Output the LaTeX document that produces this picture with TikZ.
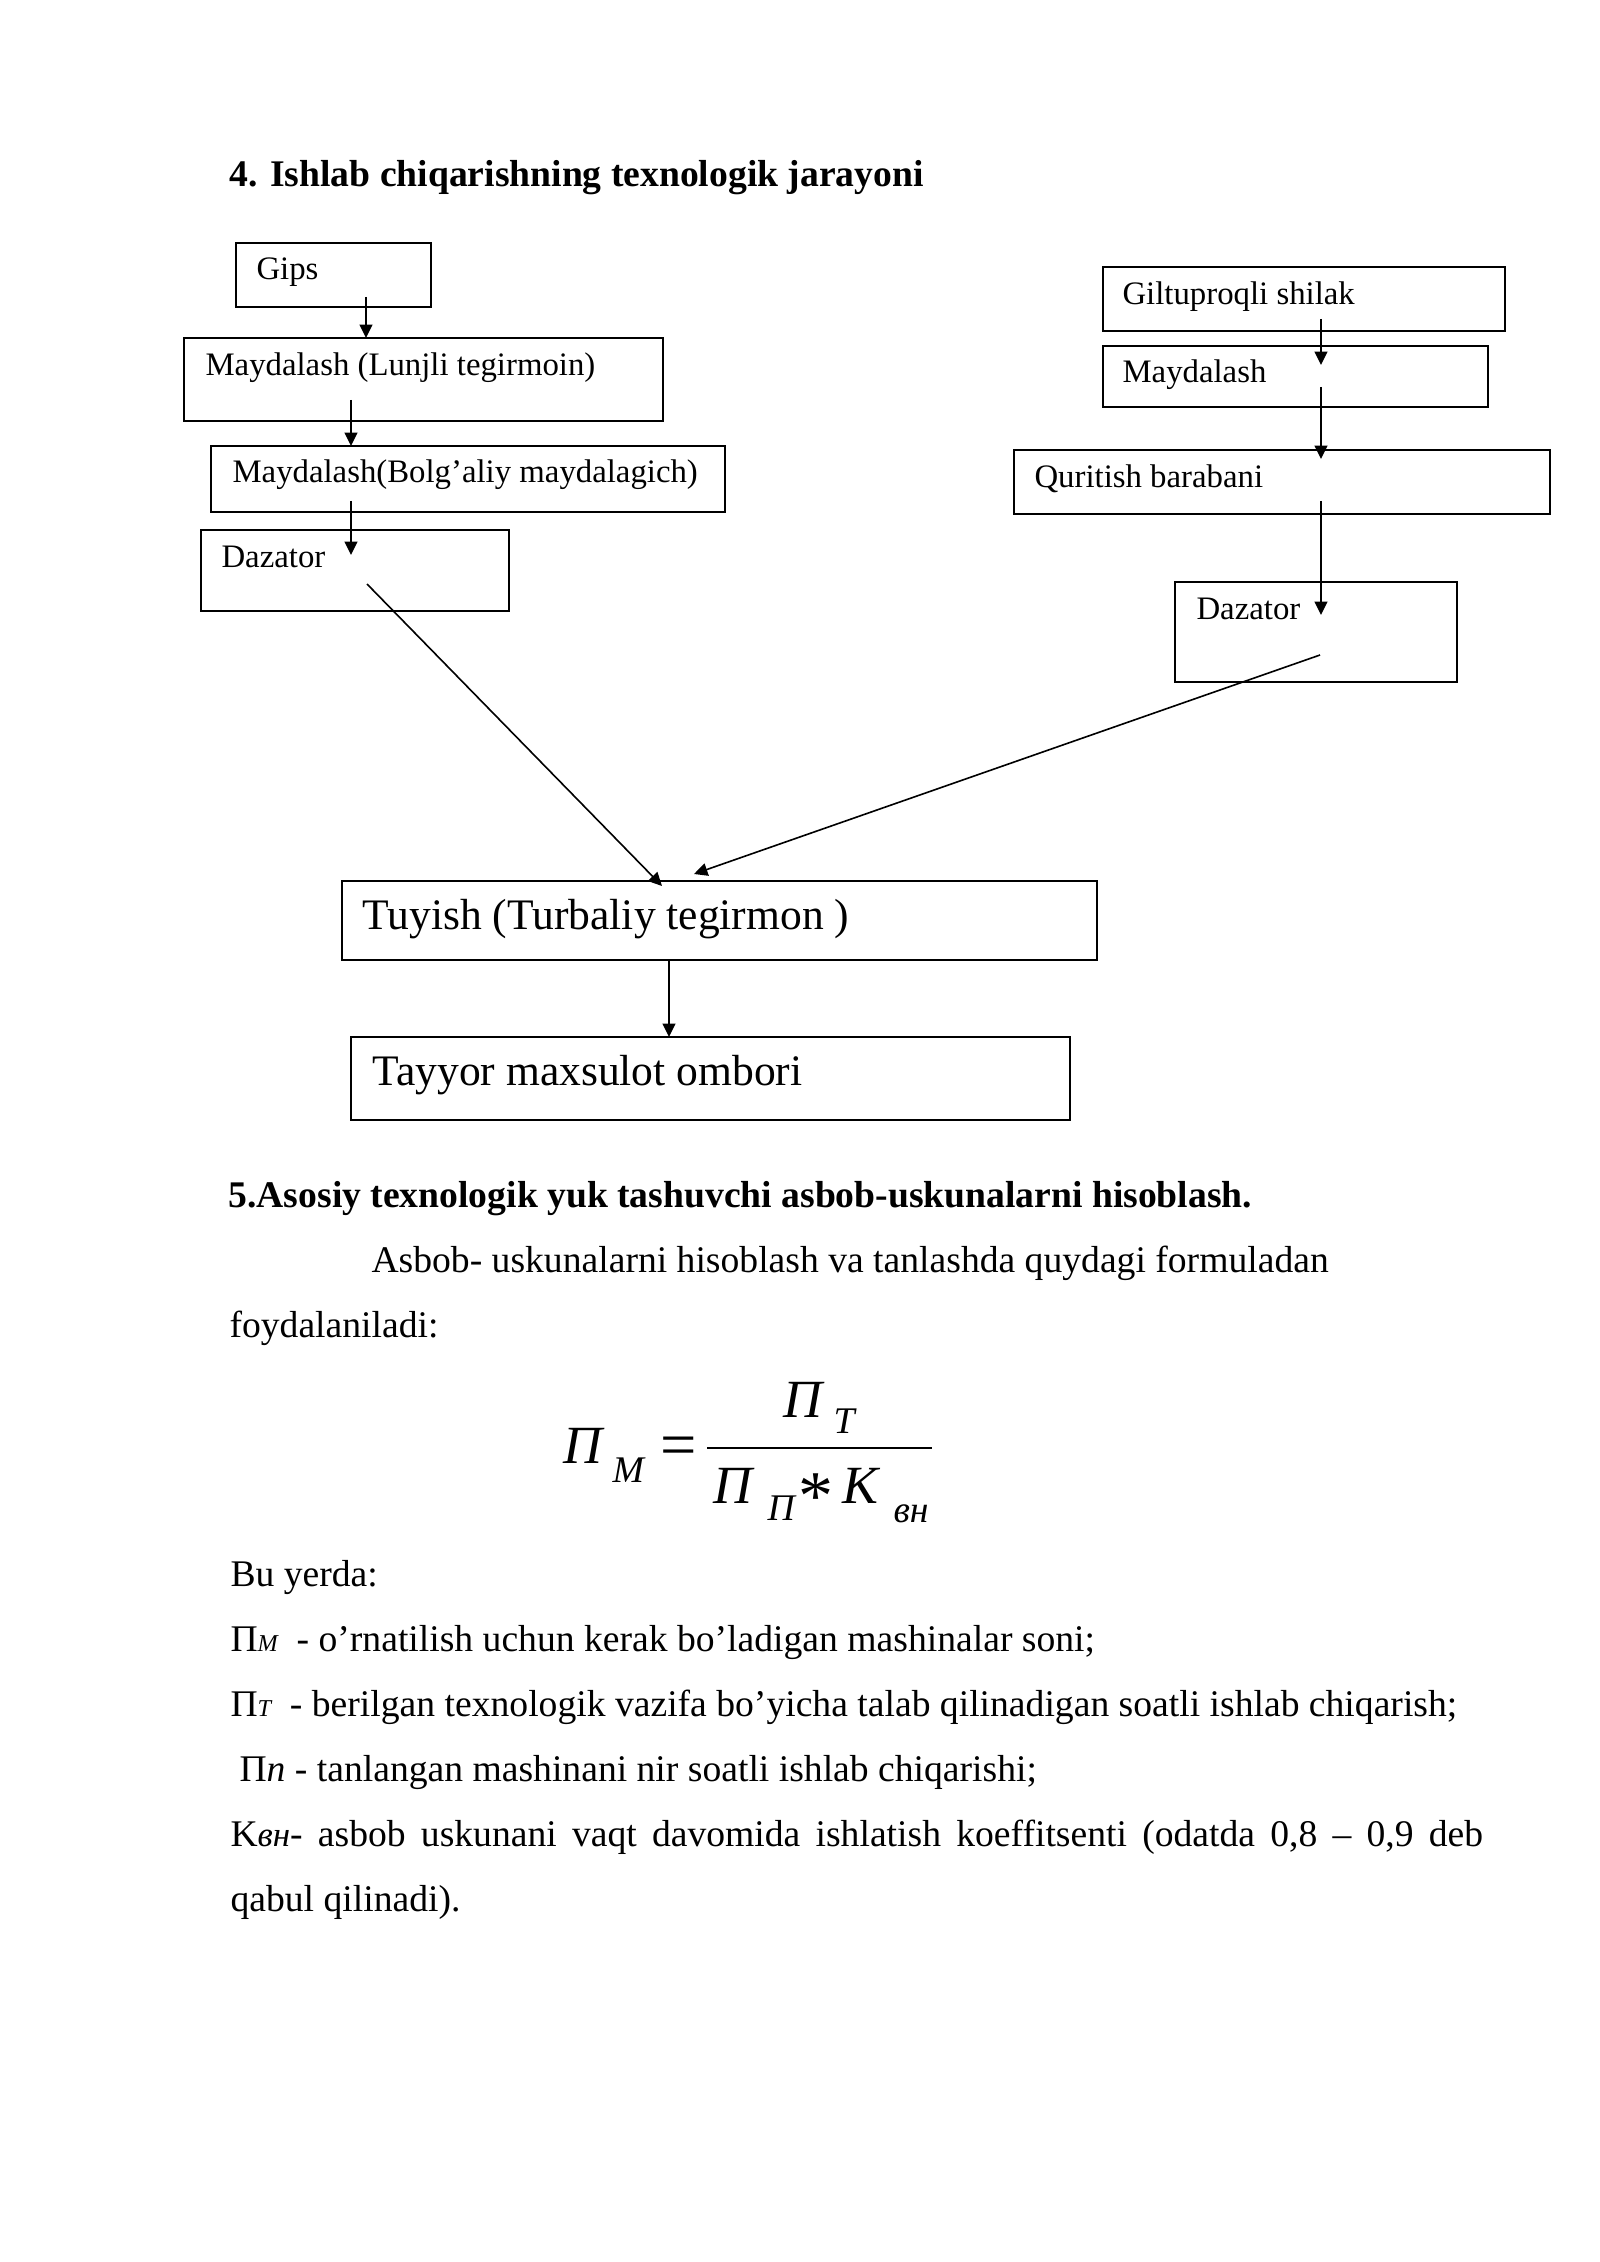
\documentclass[tikz,border=0pt]{standalone}
\usepackage{fontspec}
\setmainfont{Liberation Serif}
\usetikzlibrary{arrows.meta,fit}
\begin{document}
\begin{tikzpicture}[x=0.37206pt,y=-0.37206pt,
  box/.style={draw, line width=0.8pt, inner sep=0pt, rectangle},
  lbl/.style={anchor=base west, inner sep=0pt, font=\fontsize{12.2}{14}\selectfont},
  biglbl/.style={anchor=base west, inner sep=0pt, font=\fontsize{16.2}{19}\selectfont},
  body/.style={anchor=base west, inner sep=0pt, font=\fontsize{14}{16}\selectfont},
  bodyb/.style={anchor=base west, inner sep=0pt, font=\fontsize{14}{16}\selectfont\bfseries},
  fm/.style={anchor=base west, inner sep=0pt, font=\fontsize{20}{24}\selectfont\itshape},
  fs/.style={anchor=base west, inner sep=0pt, font=\fontsize{14}{16}\selectfont\itshape},
  arr/.style={-{Triangle[length=5pt,width=4.8pt]}, line width=0.6pt}]
\useasboundingbox[fill=white] (0,0) rectangle (1600,2262);

% title
\node[bodyb] (title) at (229,187) {4. Ishlab chiqarishning texnologik jarayoni};

% left column boxes
\node[box, fit={(236,243) (431,307)}] (gips) {};
\node[lbl] (gipsT) at (256,280) {Gips};
\node[box, fit={(184,338) (663,421)}] (lunj) {};
\node[lbl] (lunjT) at (205,376) {Maydalash (Lunjli tegirmoin)};
\node[box, fit={(211,446) (725,512)}] (bolg) {};
\node[lbl] (bolgT) at (232,483) {Maydalash(Bolg’aliy maydalagich)};
\node[box, fit={(201,530) (509,611)}] (dazL) {};
\node[lbl] (dazLT) at (221,567) {Dazator};

% right column boxes
\node[box, fit={(1103,267) (1505,331)}] (gilt) {};
\node[lbl] (giltT) at (1122,305) {Giltuproqli shilak};
\node[box, fit={(1103,346) (1488,407)}] (maydR) {};
\node[lbl] (maydRT) at (1122,383) {Maydalash};
\node[box, fit={(1014,450) (1550,514)}] (qur) {};
\node[lbl] (qurT) at (1034,488) {Quritish barabani};
\node[box, fit={(1175,582) (1457,682)}] (dazR) {};
\node[lbl] (dazRT) at (1196,620) {Dazator};

% lower boxes
\node[box, fit={(342,881) (1097,960)}] (tuy) {};
\node[biglbl] (tuyT) at (362,929) {Tuyish (Turbaliy tegirmon )};
\node[box, fit={(351,1037) (1070,1120)}] (tay) {};
\node[biglbl] (tayT) at (372,1085) {Tayyor maxsulot ombori};

% connector end points
\coordinate (l1s) at (366,297);  \coordinate (l1e) at (366,338);
\coordinate (l2s) at (351,400);  \coordinate (l2e) at (351,446);
\coordinate (l3s) at (351,501);  \coordinate (l3e) at (351,555);
\coordinate (r1s) at (1321,319); \coordinate (r1e) at (1321,365);
\coordinate (r2s) at (1321,387); \coordinate (r2e) at (1321,459);
\coordinate (r3s) at (1321,501); \coordinate (r3e) at (1321,615);
\coordinate (d1s) at (367,584);  \coordinate (d1e) at (662,886);
\coordinate (d2s) at (1320,655); \coordinate (d2e) at (694,874);
\coordinate (ts) at (669,960);   \coordinate (te) at (669,1037);

\draw[arr] (l1s) -- (l1e);
\draw[arr] (l2s) -- (l2e);
\draw[arr] (l3s) -- (l3e);
\draw[arr] (r1s) -- (r1e);
\draw[arr] (r2s) -- (r2e);
\draw[arr] (r3s) -- (r3e);
\draw[arr] (d1s) -- (d1e);
\draw[arr] (d2s) -- (d2e);
\draw[arr] (ts) -- (te);

% section 5
\node[bodyb] (h5) at (228,1207) {5.Asosiy texnologik yuk tashuvchi asbob-uskunalarni hisoblash.};
\node[body] (p1) at (371,1272) {Asbob- uskunalarni hisoblash va tanlashda quydagi formuladan};
\node[body] (p2) at (229,1337) {foydalaniladi:};

% formula
\node[fm] (fPM) at (563,1463) {Π};
\node[fs] (fM) at (612,1482) {М};
\node[anchor=base west, inner sep=0pt, font=\fontsize{24}{28}\selectfont] (feq) at (660,1466) {=};
\draw[line width=0.75pt] (707,1448) -- (932,1448);
\node[fm] (fPT) at (783,1417) {Π};
\node[fs] (fT) at (833,1433) {Т};
\node[fm] (fPP) at (713,1503) {Π};
\node[fs] (fP) at (767,1520) {П};
\node[anchor=base west, inner sep=0pt, font=\fontsize{26}{30}\selectfont] (fst) at (798,1519) {*};
\node[fm] (fK) at (842,1503) {K};
\node[fs] (fvn) at (893,1522) {вн};

% legend
\node[body] (b0) at (230,1586) {Bu yerda:};
\node[body] (b1) at (230,1651) {Π{\fontsize{9}{11}\selectfont\itshape М}\ \ - o’rnatilish uchun kerak bo’ladigan mashinalar soni;};
\node[body] (b2) at (230,1716) {Π{\fontsize{9}{11}\selectfont\itshape Т}\ \ - berilgan texnologik vazifa bo’yicha talab qilinadigan soatli ishlab chiqarish;};
\node[body] (b3) at (239,1781) {Π{\itshape n} - tanlangan mashinani nir soatli ishlab chiqarishi;};
\node[body] (b4) at (230,1846) {\hbox to 466pt{K{\fontsize{13}{15}\selectfont\itshape вн}- asbob uskunani vaqt davomida ishlatish koeffitsenti (odatda 0,8 – 0,9 deb}};
\node[body] (b5) at (230,1911) {qabul qilinadi).};
\end{tikzpicture}
\end{document}
